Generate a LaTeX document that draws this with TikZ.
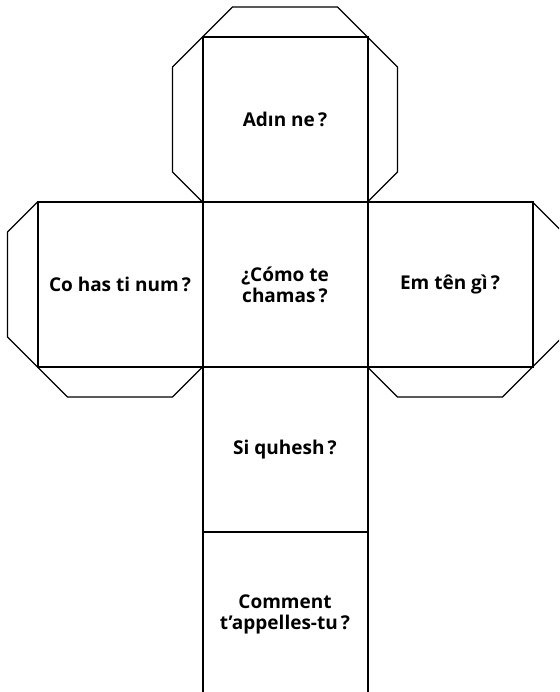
\documentclass[tikz,border=0pt]{standalone}
\usepackage{fontspec}
\setmainfont{Open Sans}
\usetikzlibrary{positioning}

\begin{document}
\begin{tikzpicture}[x=1pt,y=1pt,node distance=165pt,font=\fontsize{19}{21}\selectfont\bfseries]
		\tikzstyle{face}=[draw=black,line width=2pt,minimum size=165pt,inner sep=0pt,outer sep=0pt,align=center,text=black]
		\tikzstyle{flap}=[draw=black,line width=1.3pt,line join=miter]
		\clip (0,0) rectangle (559,692);
		\node[face] (M) at (285,407.5) {¿Cómo te\\chamas\,?};
		\node[face] (T) [above of=M] {Adın ne\,?};
		\node[face] (L) [left of=M] {Co has ti num\,?};
		\node[face] (R) [right of=M] {Em tên gì\,?};
		\node[face] (B) [below of=M] {Si quhesh\,?};
		\node[face] (BB) [below of=B] {Comment\\t’appelles-tu\,?};
		% flaps
		\draw[flap] (T.north west) -- ++(30,30) -- ++(105,0) -- (T.north east);
		\draw[flap] (T.north west) -- ++(-30,-30) -- ++(0,-105) -- (T.south west);
		\draw[flap] (T.north east) -- ++(30,-30) -- ++(0,-105) -- (T.south east);
		\draw[flap] (L.north west) -- ++(-30,-30) -- ++(0,-105) -- (L.south west);
		\draw[flap] (L.south west) -- ++(30,-30) -- ++(105,0) -- (L.south east);
		\draw[flap] (R.north east) -- ++(30,-30) -- ++(0,-105) -- (R.south east);
		\draw[flap] (R.south west) -- ++(30,-30) -- ++(105,0) -- (R.south east);
\end{tikzpicture}
\end{document}
